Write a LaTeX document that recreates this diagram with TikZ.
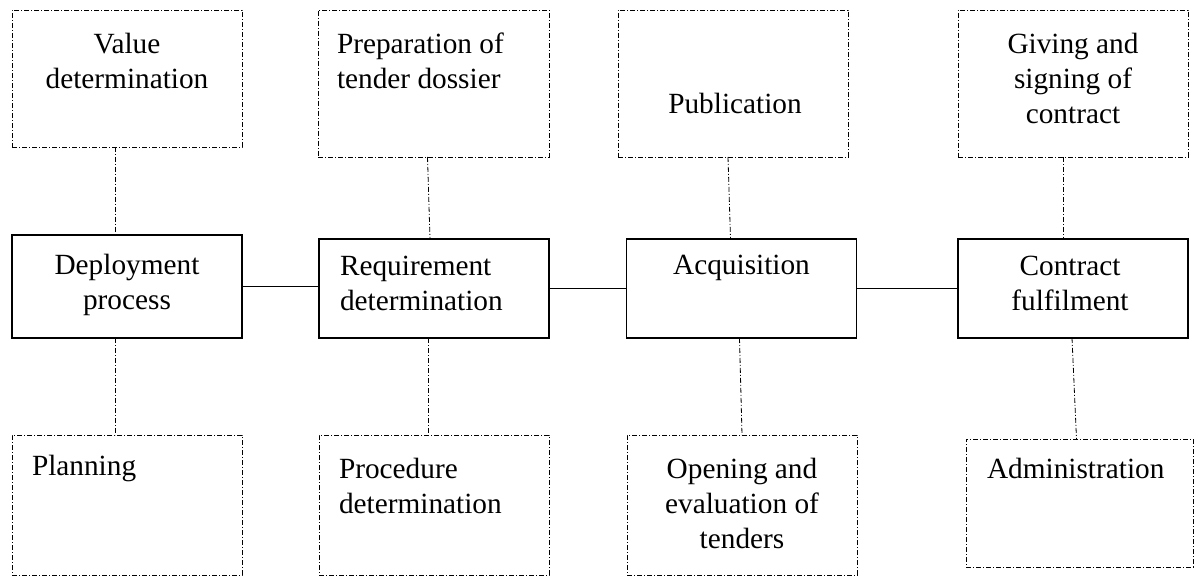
\documentclass[tikz,border=0pt]{standalone}
\usepackage{fontspec}
\setmainfont{Liberation Serif}
\begin{document}
\begin{tikzpicture}[x=1pt,y=-1pt,
  dashdot/.style={line width=0.8pt, dash pattern=on 5pt off 2pt on 1pt off 2pt},
  dbox/.style={draw, dashdot, inner sep=0pt, outer sep=0pt},
  sbox/.style={draw, line width=1.1pt, inner sep=0pt, outer sep=0pt},
  txt/.style={inner sep=0pt, outer sep=0pt, font=\fontsize{29.3}{35}\selectfont},
  ctxt/.style={txt, align=center, anchor=base},
  ltxt/.style={txt, align=left, anchor=base west},
  link/.style={line width=1pt},
  dlink/.style={dashdot}]
\useasboundingbox (0,0) rectangle (1194,577);
% top dashed boxes
\node[dbox, minimum width=230pt, minimum height=137pt] (val) at (127,78.5) {};
\node[dbox, minimum width=231pt, minimum height=147pt] (prep) at (433.5,83.5) {};
\node[dbox, minimum width=230pt, minimum height=147pt] (pub) at (733,83.5) {};
\node[dbox, minimum width=230pt, minimum height=147pt] (giv) at (1073,83.5) {};
% main boxes
\node[sbox, minimum width=230pt, minimum height=103pt] (dep) at (127,286.5) {};
\node[sbox, minimum width=230pt, minimum height=99pt] (req) at (434,288.5) {};
\node[sbox, minimum width=230pt, minimum height=99pt] (acq) at (741.5,288.5) {};
\node[sbox, minimum width=230pt, minimum height=99pt] (con) at (1073,288.5) {};
% bottom dashed boxes
\node[dbox, minimum width=230pt, minimum height=140pt] (pla) at (127,505) {};
\node[dbox, minimum width=230pt, minimum height=140pt] (pro) at (434,505) {};
\node[dbox, minimum width=230pt, minimum height=140pt] (ope) at (742,505) {};
\node[dbox, minimum width=227pt, minimum height=128pt] (adm) at (1079.5,503) {};
% texts (anchor = baseline of the last line)
\node[ctxt] (valt) at (127,89) {Value\\determination};
\node[ltxt] (prept) at (337,89) {Preparation of\\tender dossier};
\node[ctxt] (pubt) at (735,114) {Publication};
\node[ctxt] (givt) at (1073,124) {Giving and\\signing of\\contract};
\node[ctxt] (dept) at (127,309) {Deployment\\process};
\node[ltxt] (reqt) at (340,311) {Requirement\\determination};
\node[ctxt] (acqt) at (741.5,275) {Acquisition};
\node[ctxt] (cont) at (1070,311) {Contract\\fulfilment};
\node[ltxt] (plat) at (32,475) {Planning};
\node[ltxt] (prot) at (339,513) {Procedure\\determination};
\node[ctxt] (opet) at (742,548) {Opening and\\evaluation of\\tenders};
\node[ltxt] (admt) at (987,478) {Administration};
% horizontal links
\draw[link] (dep.east) -- (dep.east -| req.west);
\draw[link] (req.east) -- (req.east -| acq.west);
\draw[link] (acq.east) -- (acq.east -| con.west);
% vertical dash-dot links
\draw[dlink] ([xshift=-12pt]val.south) -- ([xshift=-12pt]dep.north);
\draw[dlink] ([xshift=-6pt]prep.south) -- ([xshift=-4pt]req.north);
\draw[dlink] ([xshift=-5pt]pub.south) -- ([xshift=-11pt]acq.north);
\draw[dlink] ([xshift=-10pt]giv.south) -- ([xshift=-10pt]con.north);
\draw[dlink] ([xshift=-12pt]dep.south) -- ([xshift=-12pt]pla.north);
\draw[dlink] ([xshift=-6pt]req.south) -- ([xshift=-6pt]pro.north);
\draw[dlink] ([xshift=-2pt]acq.south) -- (ope.north);
\draw[dlink] ([xshift=-1pt]con.south) -- ([xshift=-3pt]adm.north);
\end{tikzpicture}
\end{document}
